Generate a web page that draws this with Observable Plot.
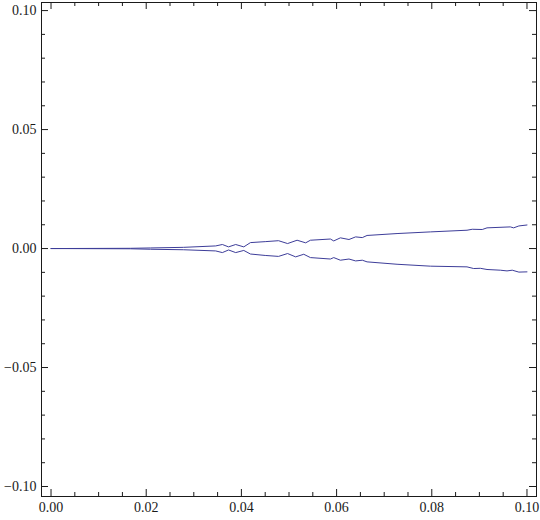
<!DOCTYPE html>
<html><head><meta charset="utf-8">
<script src="https://cdn.jsdelivr.net/npm/d3@7"></script>
<script src="https://cdn.jsdelivr.net/npm/@observablehq/plot@0.6"></script>
<style>body{margin:0;background:#fff}</style>
</head><body><div id="chart"></div>
<script>
const upperX = [0, 0.0167, 0.0209, 0.0278, 0.0346, 0.0360, 0.0373, 0.0388, 0.0405, 0.0419, 0.0450, 0.0478, 0.0497, 0.0517, 0.0535, 0.0545, 0.0587, 0.0594, 0.0608, 0.0626, 0.0640, 0.0654, 0.0664, 0.0727, 0.0797, 0.0874, 0.0885, 0.0906, 0.0916, 0.0965, 0.0972, 0.0983, 0.1000];
const upperY = [0, 0.0001, 0.00025, 0.0005, 0.0011, 0.0017, 0.0007, 0.0017, 0.0007, 0.0025, 0.0029, 0.0033, 0.0021, 0.0035, 0.0024, 0.0035, 0.0040, 0.0032, 0.0045, 0.0038, 0.0049, 0.0046, 0.0055, 0.0063, 0.0070, 0.0077, 0.0081, 0.0080, 0.0087, 0.0091, 0.0087, 0.0095, 0.0099];
const lowerX = [0, 0.0167, 0.0209, 0.0278, 0.0346, 0.0360, 0.0373, 0.0388, 0.0405, 0.0419, 0.0450, 0.0478, 0.0497, 0.0514, 0.0531, 0.0545, 0.0587, 0.0594, 0.0608, 0.0626, 0.0640, 0.0654, 0.0664, 0.0727, 0.0797, 0.0874, 0.0888, 0.0902, 0.0916, 0.0944, 0.0958, 0.0969, 0.0983, 0.1000];
const lowerY = [0, -0.0001, -0.0003, -0.0005, -0.0010, -0.0017, -0.0006, -0.0017, -0.0008, -0.0023, -0.0029, -0.0033, -0.0021, -0.0035, -0.0024, -0.0038, -0.0044, -0.0038, -0.0049, -0.0044, -0.0052, -0.0049, -0.0056, -0.0066, -0.0074, -0.0077, -0.0084, -0.0083, -0.0088, -0.0091, -0.0094, -0.0091, -0.0099, -0.0098];

const xMajor = [0, 0.02, 0.04, 0.06, 0.08, 0.10];
const xLabels = ["0.00", "0.02", "0.04", "0.06", "0.08", "0.10"];
const yMajor = [-0.10, -0.05, 0, 0.05, 0.10];
const yLabels = ["\u22120.10", "\u22120.05", "0.00", "0.05", "0.10"];
const xMinor = d3.range(1, 20).map(i => i * 0.005).filter(v => Math.abs(v / 0.02 - Math.round(v / 0.02)) > 1e-6);
const yMinor = d3.range(-9, 10).map(i => i * 0.01).filter(v => Math.abs(v / 0.05 - Math.round(v / 0.05)) > 1e-6);

const upper = upperX.map((x, i) => ({x, y: upperY[i]}));
const lower = lowerX.map((x, i) => ({x, y: lowerY[i]}));

const W = 540, H = 520, mt = 2, mr = 4, mb = 24, ml = 41;
const ph = H - mt - mb, pw = W - ml - mr;
const major = 7, minor = 4;
const ink = "#1a1a1a";
const font = "Liberation Serif";

const chart = Plot.plot({
  width: W, height: H,
  marginTop: mt, marginRight: mr, marginBottom: mb, marginLeft: ml,
  style: {fontFamily: font, fontSize: "14px", color: ink, background: "#fff"},
  x: {domain: [-0.002, 0.102], axis: null},
  y: {domain: [-0.1042, 0.1034], axis: null},
  marks: [
    Plot.ruleX(xMajor, {x: d => d, insetTop: ph - major, stroke: ink}),
    Plot.ruleX(xMajor, {x: d => d, insetBottom: ph - major, stroke: ink}),
    Plot.ruleX(xMinor, {x: d => d, insetTop: ph - minor, stroke: ink}),
    Plot.ruleX(xMinor, {x: d => d, insetBottom: ph - minor, stroke: ink}),
    Plot.ruleY(yMajor, {y: d => d, insetRight: pw - major, stroke: ink}),
    Plot.ruleY(yMajor, {y: d => d, insetLeft: pw - major, stroke: ink}),
    Plot.ruleY(yMinor, {y: d => d, insetRight: pw - minor, stroke: ink}),
    Plot.ruleY(yMinor, {y: d => d, insetLeft: pw - minor, stroke: ink}),
    Plot.axisX(xMajor, {anchor: "bottom", label: null, tickSize: 0, tickPadding: 6, tickFormat: (d, i) => xLabels[i], fill: ink, fontFamily: font, fontSize: 14}),
    Plot.axisY(yMajor, {anchor: "left", label: null, tickSize: 0, tickPadding: 5, tickFormat: (d, i) => yLabels[i], fill: ink, fontFamily: font, fontSize: 14}),
    Plot.line(upper, {x: "x", y: "y", stroke: "#3d3d99", strokeWidth: 1}),
    Plot.line(lower, {x: "x", y: "y", stroke: "#3d3d99", strokeWidth: 1}),
    Plot.frame({stroke: ink})
  ]
});
document.getElementById("chart").append(chart);
</script>
</body></html>
